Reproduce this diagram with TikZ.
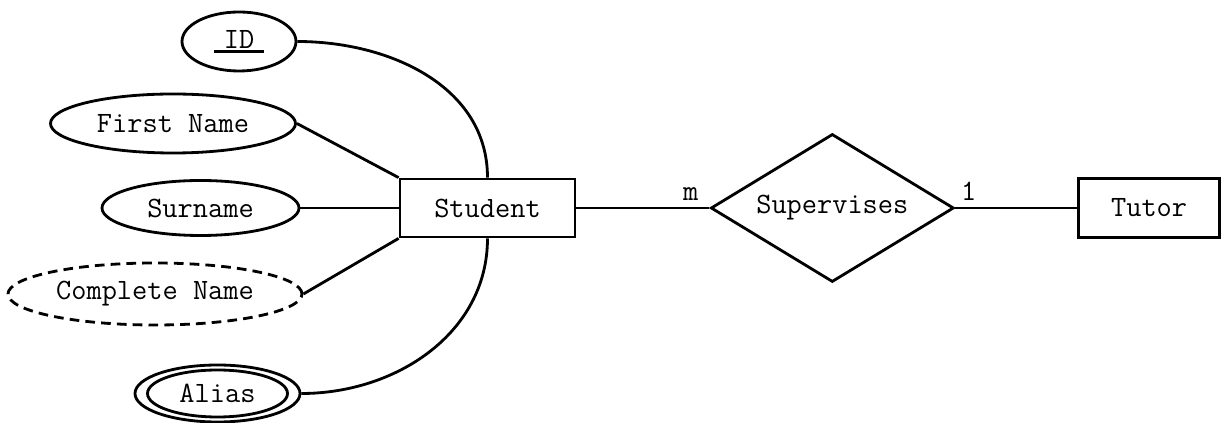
\documentclass[tikz,border=0pt]{standalone}
\usetikzlibrary{shapes.geometric,positioning}

\begin{document}
\begin{tikzpicture}[font=\ttfamily\fontsize{16.8pt}{19pt}\selectfont]
%attributes are ellipses, entities boxes, the relation a diamond
\tikzstyle{ent}=[draw, line width=1.6pt, minimum width=3.5cm, minimum height=1.16cm]
\tikzstyle{att}=[draw, ellipse, line width=1.6pt, inner sep=0pt]
\tikzstyle{rel}=[draw, diamond, line width=1.6pt, aspect=1.64, minimum width=4.86cm, minimum height=2.96cm]
\useasboundingbox (0,0) rectangle (24.42,8.46);
\node[ent](S) at (9.75,4.30) {Student};
\node[rel](R) [right = 2.66cm of S] {Supervises};
\node[ent, minimum width=2.82cm, minimum height=1.18cm](T) [right = 2.44cm of R] {Tutor};
\node[att, minimum width=2.28cm, minimum height=1.18cm](ID) at (4.78,7.63) {\makebox[1cm]{ID}\llap{\rule[-0.08cm]{1cm}{1.4pt}}};
\node[att, minimum width=4.9cm, minimum height=1.18cm](FN) at (3.46,5.99) {First Name};
\node[att, minimum width=3.94cm, minimum height=1.1cm](SN) at (4.01,4.30) {Surname};
\node[att, dash pattern=on 5.5pt off 3.5pt, minimum width=5.88cm, minimum height=1.24cm](CN) at (3.10,2.58) {Complete Name};
\node[att, minimum width=3.3cm, minimum height=1.14cm](AO) at (4.35,0.59) {};
\node[att, minimum width=2.8cm, minimum height=0.94cm](AL) at (AO) {Alias};
\draw[line width=1.6pt] (ID.east) to[out=0, in=90] (S.north);
\draw[line width=1.6pt] (FN.east) -- (S.north west);
\draw[line width=1.6pt] (SN) -- (S);
\draw[line width=1.6pt] (CN.east) -- (S.south west);
\draw[line width=1.6pt] (AO.east) to[out=0, in=-90] (S.south);
\draw[line width=1.6pt] (S) -- node[pos=0.86, above]{m} (R);
\draw[line width=1.6pt] (R) -- node[pos=0.11, above]{1} (T);
\end{tikzpicture}
\end{document}
